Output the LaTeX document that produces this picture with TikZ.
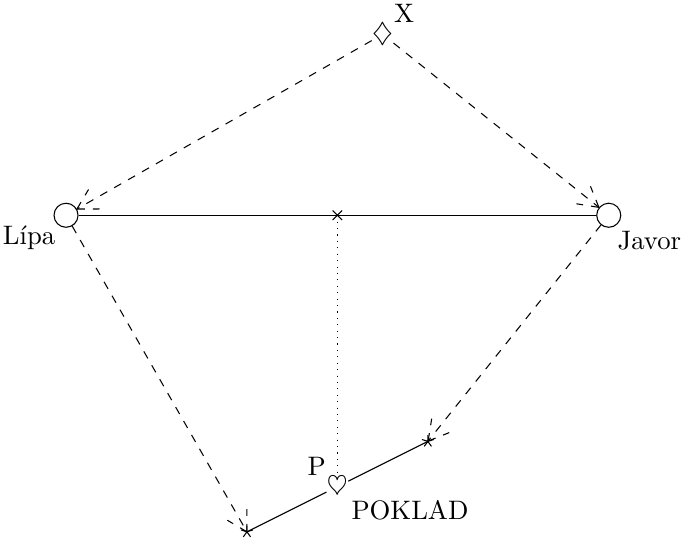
\documentclass[tikz,border=0pt]{standalone}
\usetikzlibrary{positioning,plotmarks,calc,decorations.markings}
\begin{document}
\begin{tikzpicture}[x=1.19cm,y=1.19cm,
  tree/.style={circle,draw,inner sep=0pt,minimum size=9pt},
  walk/.style={dashed,postaction={decorate},
    decoration={markings,mark=at position 1 with {
      \draw[dashed] (0,0) -- (-7.4pt,4.2pt);
      \draw[dashed] (0,0) -- (-7.4pt,-4.2pt);}}}]
  \useasboundingbox (-0.73,-3.58) rectangle (6.81,2.38);
  \node[tree,label={[inner sep=0.5pt]below left:L\'ipa}] (lipa) at (0,0) {};
  \node[tree,label={[inner sep=1pt,xshift=-1.2pt,yshift=-1.5pt]below right:Javor}] (javor) at (6,0) {};
  \node[inner sep=0pt,label={[inner sep=0pt]above right:X}] (x) at (3.5,2) {$\diamondsuit$};
  \coordinate (k1) at (2,-3.5);
  \coordinate (k2) at (4,-2.5);
  \coordinate (mid) at (3,0);
  \node[inner sep=0pt,label={[inner sep=0pt]above left:P},label={[inner sep=1pt]below right:POKLAD}] (p) at ($(k1)!0.5!(k2)$) {$\heartsuit$};
  \draw (lipa) -- (javor);
  \draw (k1) -- (p) -- (k2);
  \draw[dotted] (mid) -- (p);
  \draw[walk] (x) -- (lipa);
  \draw[walk] (x) -- (javor);
  \draw[walk] (lipa) -- (k1);
  \draw[walk] (javor) -- (k2);
  \path plot[mark=star,mark size=2.3pt] coordinates {(k1) (k2)};
  \path plot[mark=x,mark size=2.5pt] coordinates {(mid)};
\end{tikzpicture}
\end{document}
